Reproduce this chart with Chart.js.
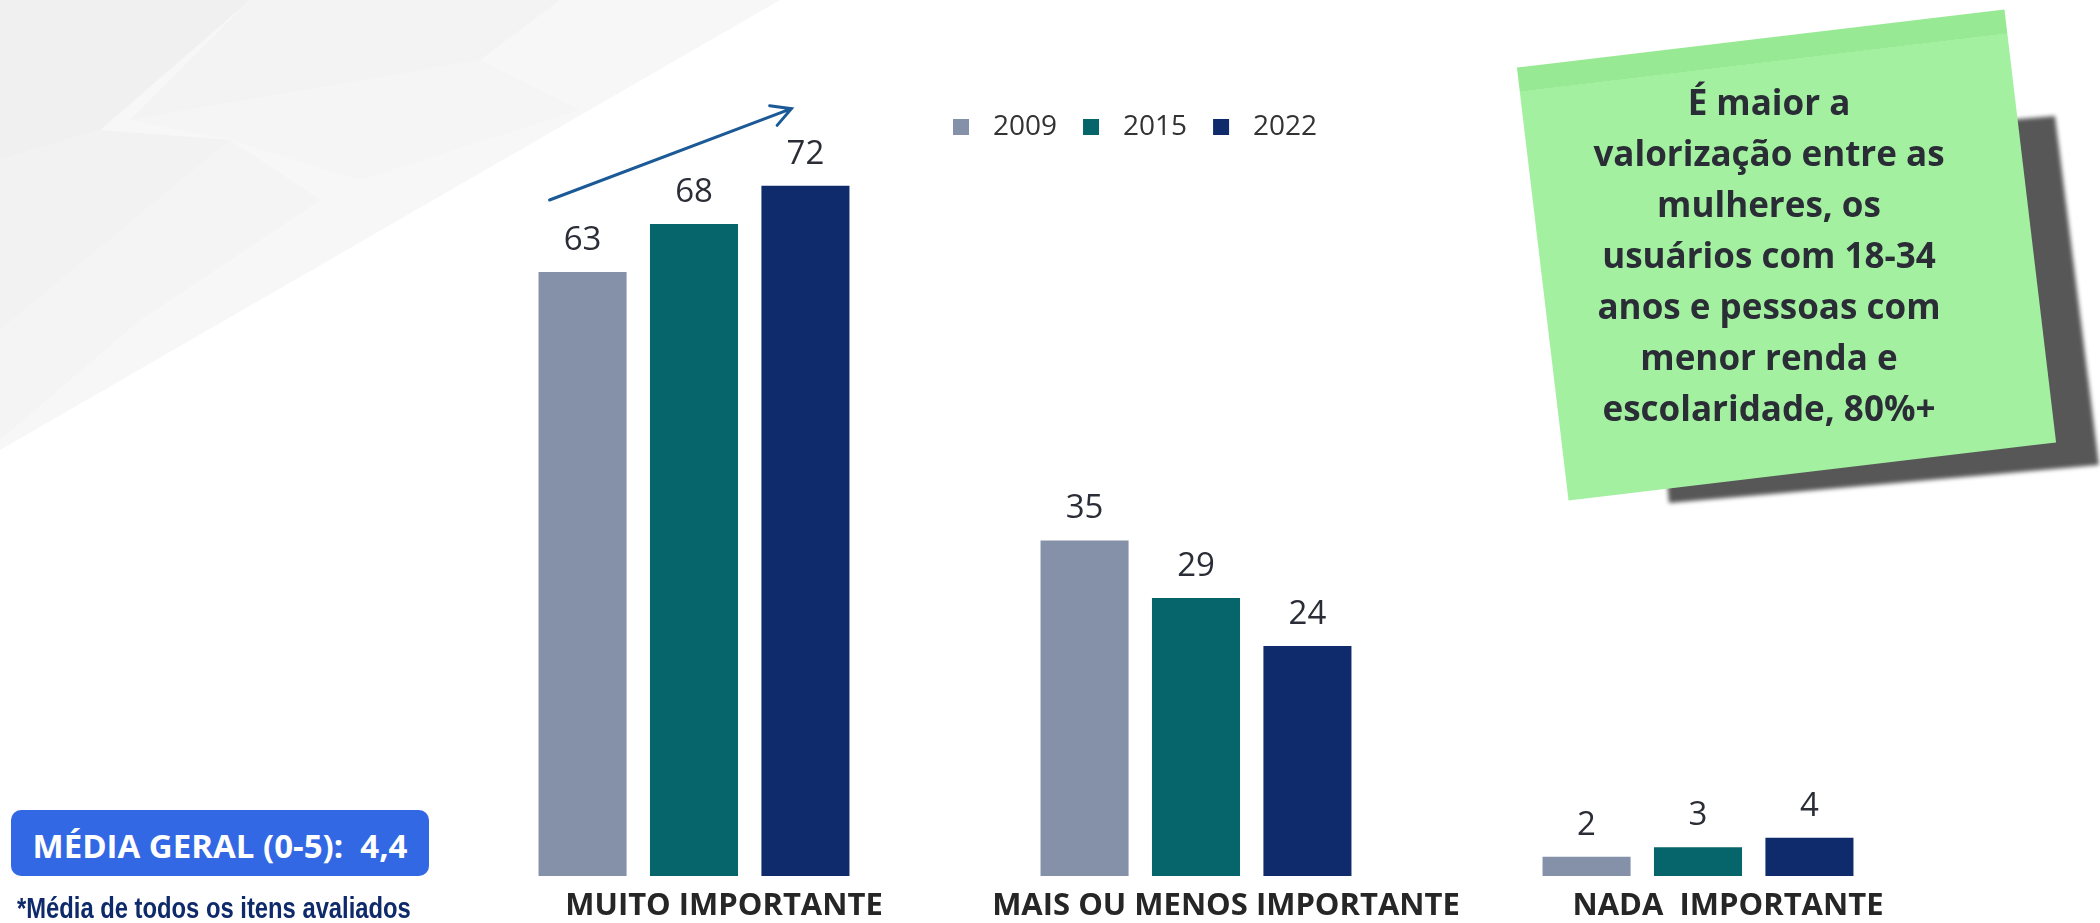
<!DOCTYPE html>
<html>
<head>
<meta charset="utf-8">
<script src="https://cdn.jsdelivr.net/npm/chart.js@4.4.1/dist/chart.umd.min.js"></script>
<style>
  body { margin: 0; background: #fff; width: 2100px; height: 923px; overflow: hidden; position: relative; font-family: 'Open Sans', sans-serif; }
  #bg, #c { position: absolute; left: 0; top: 0; }
  .shadow { position: absolute; left: 0; top: 0; width: 2100px; height: 923px; filter: blur(2px); }
  .shadow div { width: 100%; height: 100%; background: #575757; clip-path: polygon(1640px 150px, 2055px 116px, 2099px 465px, 1669px 503px); }
  .note { position: absolute; left: 1541px; top: 37px; width: 491px; height: 436px; transform: rotate(-6.8deg);
          background: linear-gradient(#97E993 0, #97E993 24px, #A3F0A0 24px); }
  .noteText { position: absolute; left: 1559px; top: 76px; width: 420px; text-align: center; font-weight: 700; font-size: 35px; line-height: 51px; color: #2A2D36; }
  .media { position: absolute; left: 11px; top: 810px; width: 418px; height: 66px; border-radius: 10px; background: #3368E5; color: #fff;
           font-weight: 700; font-size: 33px; line-height: 72px; text-align: center; white-space: pre; }
  .foot { position: absolute; left: 17px; top: 893px; font-family: 'Liberation Sans Narrow', 'Liberation Sans', sans-serif; font-weight: 700; font-size: 29px; line-height: 30px; color: #0E2A6A; white-space: nowrap;
          transform: scaleX(0.82); transform-origin: 0 0; }
</style>
</head>
<body>
<svg id="bg" width="2100" height="923">
  <polygon points="0,0 780,0 0,450" fill="#F7F7F8"/>
  <polygon points="0,0 250,0 100,130 0,160" fill="#F0F0F1"/>
  <polygon points="0,160 100,130 230,140 0,330" fill="#F2F2F3"/>
  <polygon points="250,0 560,0 480,60 130,120" fill="#F3F3F4"/>
  <polygon points="130,120 480,60 580,110 360,180 230,140" fill="#F5F5F6"/>
  <polygon points="0,330 230,140 320,200 140,320 0,440" fill="#F4F4F5"/>
</svg>
<canvas id="c" width="2100" height="923"></canvas>
<div class="shadow"><div></div></div>
<div class="note"></div>
<div class="noteText">É maior a<br>valorização entre as<br>mulheres, os<br>usuários com 18-34<br>anos e pessoas com<br>menor renda e<br>escolaridade, 80%+</div>
<div class="media">MÉDIA GERAL (0-5):  4,4</div>
<div class="foot">*Média de todos os itens avaliados</div>
<script>
// categorias e valores (%)
var categories = ['MUITO IMPORTANTE', 'MAIS OU MENOS IMPORTANTE', 'NADA  IMPORTANTE'];
var years = ['2009', '2015', '2022'];
var values2009 = [63, 35, 2];
var values2015 = [68, 29, 3];
var values2022 = [72, 24, 4];
var barColors = ['#8590A9', '#05656A', '#0F2B6B'];

var textColor = '#2A2D36';

// rótulos de valor, legenda e seta
var extras = {
  id: 'extras',
  afterDatasetsDraw: function (chart) {
    var ctx = chart.ctx;
    ctx.save();
    ctx.font = '33px "Open Sans"';
    ctx.fillStyle = textColor;
    ctx.textAlign = 'center';
    ctx.textBaseline = 'alphabetic';
    chart.data.datasets.forEach(function (ds, i) {
      chart.getDatasetMeta(i).data.forEach(function (bar, j) {
        ctx.fillText(ds.data[j], bar.x, bar.y - 22);
      });
    });

    // legenda
    ctx.font = '28px "Open Sans"';
    ctx.textAlign = 'left';
    var x = 953;
    chart.data.datasets.forEach(function (ds) {
      ctx.fillStyle = ds.backgroundColor;
      ctx.fillRect(x, 119, 16, 16);
      ctx.fillStyle = '#333';
      ctx.fillText(ds.label, x + 40, 135);
      x += 40 + ctx.measureText(ds.label).width + 26;
    });

    // seta de tendência
    var a = chart.getDatasetMeta(0).data[0];
    var b = chart.getDatasetMeta(2).data[0];
    var x1 = a.x - 33, y1 = a.y - 72, x2 = b.x - 14, y2 = b.y - 77;
    ctx.strokeStyle = '#1B5A96';
    ctx.lineWidth = 3;
    ctx.lineCap = 'round';
    ctx.beginPath();
    ctx.moveTo(x1, y1);
    ctx.lineTo(x2, y2);
    var ang = Math.atan2(y2 - y1, x2 - x1);
    ctx.moveTo(x2 + 22 * Math.cos(ang + Math.PI - 0.5), y2 + 22 * Math.sin(ang + Math.PI - 0.5));
    ctx.lineTo(x2, y2);
    ctx.lineTo(x2 + 22 * Math.cos(ang + Math.PI + 0.5), y2 + 22 * Math.sin(ang + Math.PI + 0.5));
    ctx.stroke();
    ctx.restore();
  }
};

new Chart(document.getElementById('c'), {
  type: 'bar',
  data: {
    labels: categories,
    datasets: [
      { label: years[0], data: values2009, backgroundColor: barColors[0] },
      { label: years[1], data: values2015, backgroundColor: barColors[1] },
      { label: years[2], data: values2022, backgroundColor: barColors[2] }
    ]
  },
  options: {
    responsive: false,
    animation: false,
    devicePixelRatio: 1,
    categoryPercentage: 0.666,
    barPercentage: 0.79,
    layout: { padding: { left: 443, right: 151, top: 109, bottom: 0 } },
    plugins: { legend: { display: false }, tooltip: { enabled: false } },
    scales: {
      y: { display: false, min: 0, max: 80 },
      x: {
        grid: { display: false, drawTicks: false },
        border: { display: false },
        ticks: {
          color: '#262626',
          font: { family: 'Open Sans', size: 31, weight: 'bold' },
          padding: 12,
          labelOffset: 30,
          maxRotation: 0,
          autoSkip: false
        },
        afterFit: function (scale) { scale.height = 47; }
      }
    }
  },
  plugins: [extras]
});
</script>
</body>
</html>
